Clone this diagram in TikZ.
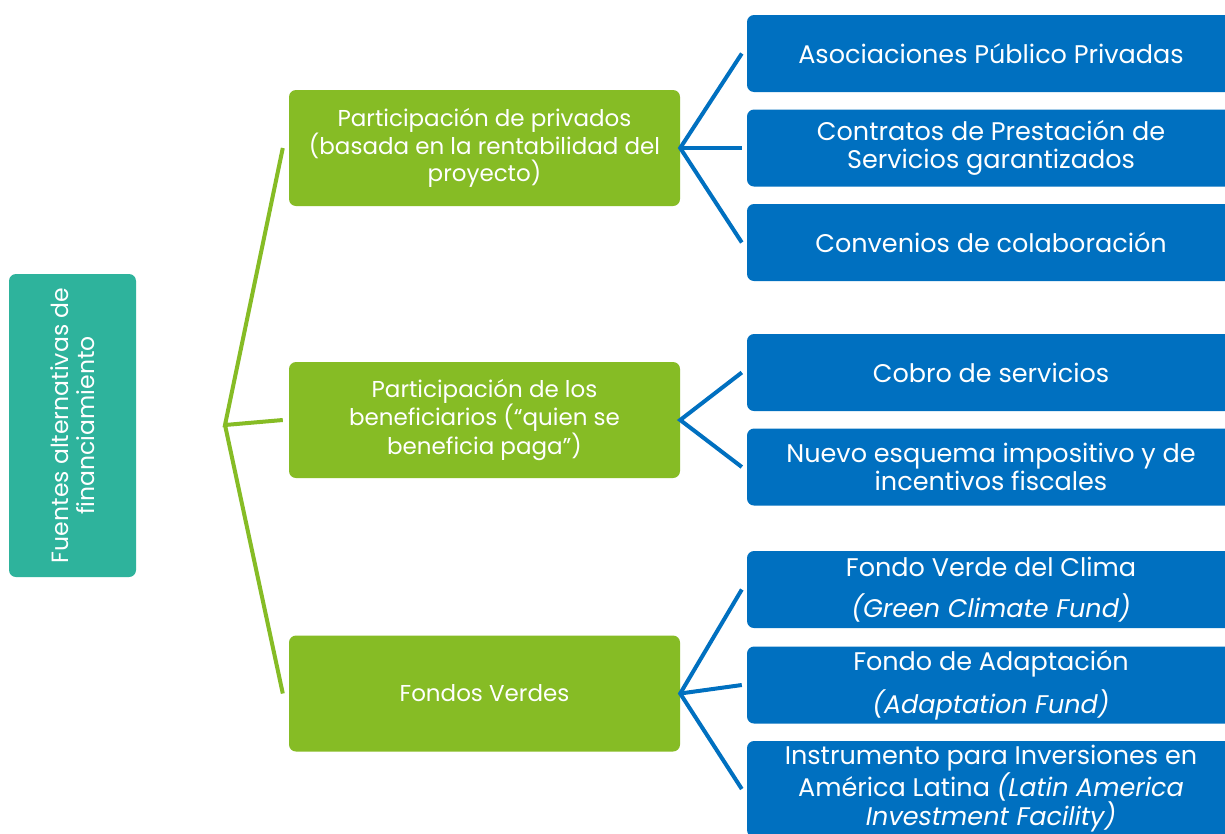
\documentclass[tikz,border=0pt]{standalone}
\usepackage{fontspec}
\setmainfont{Poppins}
\definecolor{tealc}{HTML}{2EB39C}
\definecolor{greenc}{HTML}{86BC25}
\definecolor{bluec}{HTML}{0070C0}
\begin{document}
\begin{tikzpicture}[x=1pt,y=-1pt,
  box/.style={rounded corners=7pt,inner sep=0pt,align=center,text=white},
  rootbox/.style={box,fill=tealc,minimum width=127pt,minimum height=303pt},
  midbox/.style={box,fill=greenc,minimum width=391pt,minimum height=116pt,
    font=\fontsize{23}{27}\selectfont},
  leafbox/.style={box,fill=bluec,minimum width=488pt,minimum height=77pt,
    font=\fontsize{25.5}{28.5}\selectfont},
  gline/.style={draw=greenc,line width=4pt},
  bline/.style={draw=bluec,line width=4pt}]
\useasboundingbox (0,0) rectangle (1225,833);
\clip (0,0) rectangle (1225,833);
\fill[white] (0,0) rectangle (1225,833);
% root
\node[rootbox] (root) at (72.5,425.5) {};
\node[text=white,align=center,rotate=90,font=\fontsize{23.5}{26}\selectfont] (roottxt) at (root.center)
  {Fuentes alternativas de\\financiamiento};
% middle
\node[midbox] (g1) at (484.5,148) {Participación de privados\\(basada en la rentabilidad del\\proyecto)};
\node[midbox] (g2) at (484.5,420) {Participación de los\\beneficiarios (“quien se\\beneficia paga”)};
\node[midbox] (g3) at (484.5,693.5) {Fondos Verdes};
% leaves
\node[leafbox] (b1) at (991,53.5) {Asociaciones Público Privadas};
\node[leafbox] (b2) at (991,148) {Contratos de Prestación de\\Servicios garantizados};
\node[leafbox] (b3) at (991,242.5) {Convenios de colaboración};
\node[leafbox] (b4) at (991,372.5) {Cobro de servicios};
\node[leafbox] (b5) at (991,467) {Nuevo esquema impositivo y de\\incentivos fiscales};
\node[leafbox] (b6) at (991,589.5) {Fondo Verde del Clima\\[12pt]\textit{(Green Climate Fund)}};
\node[leafbox] (b7) at (991,685) {Fondo de Adaptación\\[12pt]\textit{(Adaptation Fund)}};
\node[leafbox,minimum height=96pt] (b8) at (991,789) {Instrumento para Inversiones en\\América Latina \textit{(Latin America}\\\textit{Investment Facility)}};
% green connectors
\coordinate (hub) at (225,425);
\draw[gline] ([xshift=-6pt]g1.west) -- (hub) -- ([xshift=-6pt]g2.west);
\draw[gline] (hub) -- ([xshift=-6pt]g3.west);
% blue connectors
\draw[bline] ([xshift=-5pt]b1.west) -- (g1.east) -- ([xshift=-5pt]b3.west);
\draw[bline] (g1.east) -- ([xshift=-5pt]b2.west);
\draw[bline] ([xshift=-5pt]b4.west) -- (g2.east) -- ([xshift=-5pt]b5.west);
\draw[bline] ([xshift=-5pt]b6.west) -- (g3.east) -- ([xshift=-5pt]b8.west);
\draw[bline] (g3.east) -- ([xshift=-5pt]b7.west);
\end{tikzpicture}
\end{document}
